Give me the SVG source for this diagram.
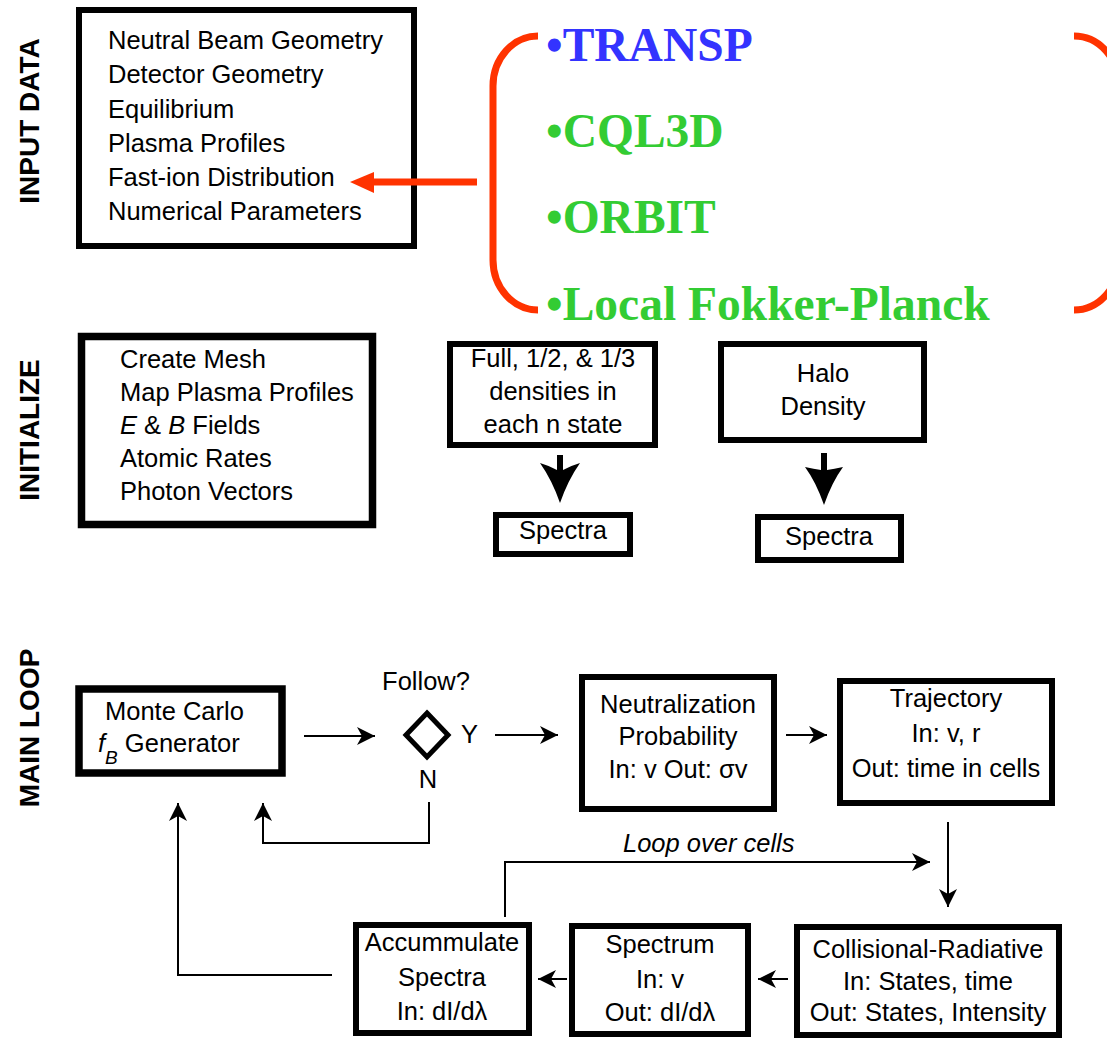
<svg xmlns="http://www.w3.org/2000/svg" width="1107" height="1040" viewBox="0 0 1107 1040">
  <style>
    .t { font-family: "Liberation Sans", Arial, Helvetica, sans-serif; font-size: 25.5px; fill: #000; }
    .c { text-anchor: middle; }
    .side { font-family: "Liberation Sans", Arial, Helvetica, sans-serif; font-size: 28px; font-weight: bold; fill: #000; text-anchor: middle; }
    .code { font-family: "Liberation Serif", "Times New Roman", serif; font-size: 47.5px; font-weight: bold; }
    .box { fill: #fff; stroke: #000; stroke-width: 6; }
    .heavy { stroke-width: 7.5; }
    .wire { fill: none; stroke: #000; stroke-width: 2; }
    .red { fill: none; stroke: #ff3300; stroke-width: 7; }
  </style>
  <defs>
    <marker id="arrow" markerUnits="userSpaceOnUse" markerWidth="20" markerHeight="20" refX="18" refY="10" orient="auto">
      <path d="M0,1 L18,10 L0,19 L5,10 Z" fill="#000"/>
    </marker>
  </defs>

  <rect width="1107" height="1040" fill="#fff"/>

  <!-- section labels -->
  <text class="side" transform="translate(39,121) rotate(-90)">INPUT DATA</text>
  <text class="side" transform="translate(39,430) rotate(-90)">INITIALIZE</text>
  <text class="side" transform="translate(39,728) rotate(-90)">MAIN LOOP</text>

  <!-- input data -->
  <g id="input-data">
    <rect class="box" x="79" y="10" width="335" height="236"/>
    <text class="t" x="108" y="49">Neutral Beam Geometry</text>
    <text class="t" x="108" y="83">Detector Geometry</text>
    <text class="t" x="108" y="118">Equilibrium</text>
    <text class="t" x="108" y="152">Plasma Profiles</text>
    <text class="t" x="108" y="186">Fast-ion Distribution</text>
    <text class="t" x="108" y="220">Numerical Parameters</text>
  </g>

  <!-- distribution sources -->
  <g id="sources">
    <path class="red" d="M538,36 A45,50 0 0 0 493,86 V260 A45,50 0 0 0 538,310"/>
    <path class="red" d="M1074,36 A45,50 0 0 1 1119,86 V260 A45,50 0 0 1 1074,310"/>
    <text class="code" x="546" y="61" fill="#3333ff">•TRANSP</text>
    <text class="code" x="546" y="147" fill="#33cc33">•CQL3D</text>
    <text class="code" x="546" y="233" fill="#33cc33">•ORBIT</text>
    <text class="code" x="546" y="320" fill="#33cc33">•Local Fokker-Planck</text>
  </g>

  <!-- initialize -->
  <g id="initialize">
    <rect class="box heavy" x="81.5" y="336.5" width="291" height="188"/>
    <text class="t" x="120" y="368">Create Mesh</text>
    <text class="t" x="120" y="401">Map Plasma Profiles</text>
    <text class="t" x="120" y="434"><tspan font-style="italic">E</tspan> &amp; <tspan font-style="italic">B</tspan> Fields</text>
    <text class="t" x="120" y="467">Atomic Rates</text>
    <text class="t" x="120" y="500">Photon Vectors</text>
  </g>

  <g id="beam-densities">
    <rect class="box" x="450" y="344" width="205" height="101"/>
    <text class="t c" x="553" y="367">Full, 1/2, &amp; 1/3</text>
    <text class="t c" x="553" y="400">densities in</text>
    <text class="t c" x="553" y="433">each n state</text>
  </g>

  <g id="beam-spectra">
    <rect class="box" x="496" y="515" width="134" height="39"/>
    <text class="t c" x="563" y="539">Spectra</text>
  </g>

  <g id="halo-density">
    <rect class="box" x="721" y="344" width="203" height="96"/>
    <text class="t c" x="823" y="382">Halo</text>
    <text class="t c" x="823" y="415">Density</text>
  </g>

  <g id="halo-spectra">
    <rect class="box" x="758" y="517" width="143" height="43"/>
    <text class="t c" x="829" y="545">Spectra</text>
  </g>

  <!-- main loop -->
  <g id="monte-carlo">
    <rect class="box heavy" x="79" y="689" width="203" height="84"/>
    <text class="t" x="105" y="720">Monte Carlo</text>
    <text class="t" x="98" y="752"><tspan font-style="italic">f</tspan><tspan font-style="italic" font-size="19" dy="12">B</tspan><tspan dy="-12"> Generator</tspan></text>
  </g>

  <g id="follow">
    <polygon points="427,713 448,735 427,757 406,735" fill="#fff" stroke="#000" stroke-width="5"/>
    <text class="t c" x="426" y="690" font-size="24">Follow?</text>
    <text class="t" x="461" y="743" font-size="24">Y</text>
    <text class="t c" x="428" y="788" font-size="24">N</text>
  </g>

  <g id="neutralization">
    <rect class="box" x="582" y="677" width="192" height="132"/>
    <text class="t c" x="678" y="713">Neutralization</text>
    <text class="t c" x="678" y="745">Probability</text>
    <text class="t c" x="678" y="778">In: v Out: σv</text>
  </g>

  <g id="trajectory">
    <rect class="box" x="840" y="681" width="212" height="122"/>
    <text class="t c" x="946" y="707">Trajectory</text>
    <text class="t c" x="946" y="742">In: v, r</text>
    <text class="t c" x="946" y="777">Out: time in cells</text>
  </g>

  <g id="collisional-radiative">
    <rect class="box" x="797" y="927" width="262" height="108"/>
    <text class="t c" x="928" y="958">Collisional-Radiative</text>
    <text class="t c" x="928" y="990">In: States, time</text>
    <text class="t c" x="928" y="1021">Out: States, Intensity</text>
  </g>

  <g id="spectrum">
    <rect class="box" x="572" y="926" width="176" height="108"/>
    <text class="t c" x="660" y="953">Spectrum</text>
    <text class="t c" x="660" y="988">In: v</text>
    <text class="t c" x="660" y="1021">Out: dI/dλ</text>
  </g>

  <g id="accumulate">
    <rect class="box" x="356" y="925" width="173" height="108"/>
    <text class="t c" x="442" y="951">Accummulate</text>
    <text class="t c" x="442" y="986">Spectra</text>
    <text class="t c" x="442" y="1020">In: dI/dλ</text>
  </g>

  <!-- connectors -->
  <g id="connectors">
    <line x1="477" y1="182" x2="372" y2="182" stroke="#ff3300" stroke-width="7"/>
    <polygon points="350,182 374,172 374,193" fill="#ff3300"/>

    <path d="M557,455 H563 V470 Q570,466 580,463 Q568,480 560,503 Q552,480 540,463 Q550,466 557,470 Z" fill="#000"/>
    <path d="M821,453 H827 V470 Q834,469 843,467 Q832,482 824,505 Q816,482 805,467 Q814,469 821,470 Z" fill="#000"/>

    <line class="wire" x1="304" y1="736" x2="375" y2="736" marker-end="url(#arrow)"/>
    <line class="wire" x1="495" y1="735" x2="558" y2="735" marker-end="url(#arrow)"/>
    <line class="wire" x1="786" y1="735" x2="827" y2="735" marker-end="url(#arrow)"/>
    <line class="wire" x1="948" y1="822" x2="948" y2="907" marker-end="url(#arrow)"/>
    <line class="wire" x1="788" y1="979" x2="758" y2="979" marker-end="url(#arrow)"/>
    <line class="wire" x1="567" y1="979" x2="538" y2="979" marker-end="url(#arrow)"/>
    <polyline class="wire" points="332,975 178,975 178,803" marker-end="url(#arrow)"/>
    <polyline class="wire" points="429,802 429,843 263,843 263,803" marker-end="url(#arrow)"/>
    <polyline class="wire" points="505,917 505,862 930,862" marker-end="url(#arrow)"/>
    <text class="t" x="623" y="852" font-style="italic" font-size="23">Loop over cells</text>
  </g>
</svg>
